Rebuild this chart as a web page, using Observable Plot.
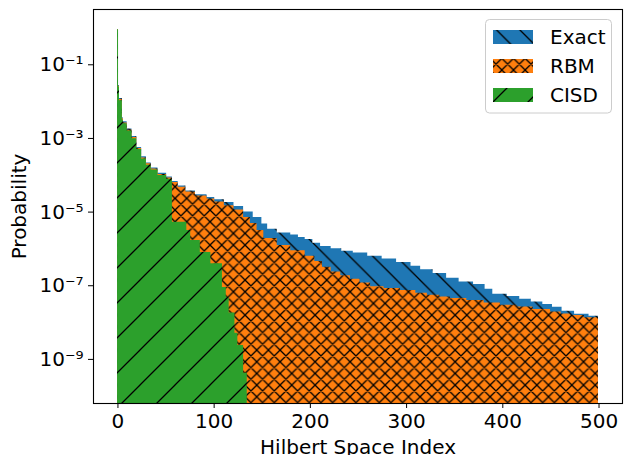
<!DOCTYPE html>
<html><head><meta charset="utf-8">
<script src="https://cdn.jsdelivr.net/npm/d3@7"></script>
<script src="https://cdn.jsdelivr.net/npm/@observablehq/plot@0.6"></script>
<style>
html,body{margin:0;padding:0;background:#fff;}
#chart{width:629px;height:455px;overflow:hidden;}
</style></head><body><div id="chart"></div>
<script>
// ---- data (runs of equal-valued bars: start index -> probability)
const seriesNames = ["Exact", "RBM", "CISD"];
const seriesColors = ["#1f77b4", "#ff7f0e", "#2ca02c"];
const xTicks = [0, 100, 200, 300, 400, 500];
const yTicks = [1e-1, 1e-3, 1e-5, 1e-7, 1e-9];

const exactStart = [0,1,2,5,6,10,15,20,25,30,35,42,51,57,63,71,81,93,101,111,121,131,141,150,156,166,180,188,195,203,211,222,233,245,260,275,290,305,315,328,342,355,370,382,390,405,418,430,442,452,462,475,490];
const exactProb = [0.79,2.4e-2,1.07e-2,3.2e-3,2.5e-3,1.6e-3,1.0e-3,5.0e-4,2.8e-4,1.9e-4,1.4e-4,1.0e-4,7.9e-5,6.0e-5,4.5e-5,3.3e-5,2.6e-5,2.2e-5,1.9e-5,1.6e-5,1.26e-5,8.9e-6,6.3e-6,4.2e-6,3.0e-6,2.4e-6,2.1e-6,1.8e-6,1.6e-6,1.26e-6,1.02e-6,8.9e-7,7.6e-7,6.8e-7,5.6e-7,4.7e-7,3.8e-7,3.0e-7,2.4e-7,1.9e-7,1.4e-7,1.12e-7,9.5e-8,7.1e-8,5.2e-8,4.5e-8,3.8e-8,3.2e-8,2.75e-8,2.3e-8,1.8e-8,1.48e-8,1.32e-8];
const exactEnd = 500;

const rbmStart = [0,1,2,5,6,10,15,20,25,30,35,42,51,57,63,71,81,93,101,111,121,131,138,145,152,166,180,195,205,213,222,232,242,252,263,277,294,310,322,335,346,363,381,398,415,432,450,461,471,485];
const rbmProb = [0.79,2.3e-2,1.0e-2,3.0e-3,2.3e-3,1.5e-3,9.3e-4,4.7e-4,2.6e-4,1.8e-4,1.3e-4,9.3e-5,7.4e-5,5.6e-5,4.2e-5,3.1e-5,2.4e-5,2.0e-5,1.66e-5,1.32e-5,1.0e-5,6.3e-6,4.3e-6,2.8e-6,1.7e-6,1.1e-6,7.9e-7,5.6e-7,4.0e-7,2.8e-7,2.1e-7,1.66e-7,1.32e-7,1.05e-7,8.3e-8,7.4e-8,6.6e-8,5.5e-8,4.9e-8,4.4e-8,4.0e-8,3.5e-8,3.0e-8,2.6e-8,2.35e-8,2.0e-8,1.7e-8,1.5e-8,1.38e-8,1.2e-8];
const rbmEnd = 500;

const cisdStart = [0,1,2,5,6,10,15,20,25,30,35,42,51,57,72,76,86,97,109,113,116,122,125,131];
const cisdProb = [0.79,2.2e-2,9.3e-3,2.8e-3,2.2e-3,1.4e-3,8.7e-4,4.4e-4,2.45e-4,1.66e-4,1.23e-4,8.7e-5,6.9e-5,4.7e-6,2.8e-6,1.5e-6,7.1e-7,3.5e-7,7.9e-8,4.3e-8,1.6e-8,4.5e-9,2.1e-9,3.7e-10];
const cisdEnd = 135;

// ---- scales
const xDomain = [-25.4, 524.4];
const yDomain = [5.6e-11, 2.8];

function runs(starts, probs, end) {
  const rows = starts.map((s, i) => ({x: s - 0.4, p: probs[i]}));
  rows.push({x: end - 0.6, p: probs[probs.length - 1]});
  return rows;
}
const exactRows = runs(exactStart, exactProb, exactEnd);
const rbmRows = runs(rbmStart, rbmProb, rbmEnd);
const cisdRows = runs(cisdStart, cisdProb, cisdEnd);

const supMap = {"-": "\u207B", "0": "\u2070", "1": "\u00B9", "2": "\u00B2", "3": "\u00B3", "4": "\u2074", "5": "\u2075", "6": "\u2076", "7": "\u2077", "8": "\u2078", "9": "\u2079"};
const logFmt = d => "10" + String(Math.round(Math.log10(d))).split("").map(c => supMap[c]).join("");

const ids = ["hExact", "hRBM", "hCISD"];
const bottom = () => yDomain[0];

const svg = Plot.plot({
  width: 629,
  height: 455,
  marginLeft: 93,
  marginRight: 7,
  marginTop: 9,
  marginBottom: 52,
  style: {fontFamily: "'DejaVu Sans', sans-serif", fontSize: "20px", color: "#000", background: "#fff"},
  x: {domain: xDomain},
  y: {type: "log", domain: yDomain},
  marks: [
    Plot.areaY(exactRows, {x: "x", y1: bottom, y2: "p", curve: "step-after", fill: "url(#hExact)"}),
    Plot.areaY(rbmRows, {x: "x", y1: bottom, y2: "p", curve: "step-after", fill: "url(#hRBM)"}),
    Plot.areaY(cisdRows, {x: "x", y1: bottom, y2: "p", curve: "step-after", fill: "url(#hCISD)"}),
    Plot.axisX({ticks: xTicks, tickFormat: d => String(d), tickSize: 5, tickPadding: 5,
      label: "Hilbert Space Index", labelAnchor: "center", labelArrow: "none", labelOffset: 50}),
    Plot.axisY({ticks: yTicks, tickFormat: logFmt, tickSize: 5, tickPadding: 5, dy: 2,
      label: "Probability", labelAnchor: "center", labelArrow: "none", labelOffset: 82}),
    Plot.frame({stroke: "#000", strokeWidth: 1.1})
  ]
});

// ---- hatch patterns (matplotlib-like)
const defs = d3.select(svg).insert("defs", ":first-child");
function hatch(id, size, color, d) {
  const p = defs.append("pattern").attr("id", id).attr("patternUnits", "userSpaceOnUse")
    .attr("width", size).attr("height", size);
  p.append("rect").attr("width", size).attr("height", size).attr("fill", color);
  p.append("path").attr("d", d).attr("stroke", "#000").attr("stroke-width", 1.3).attr("fill", "none");
}
{
  const s = 23.33;
  hatch("hExact", s, seriesColors[0], `M0,0L${s},${s}M-5,${s-5}L5,${s+5}M${s-5},-5L${s+5},5`);
  const o = 11.67;
  hatch("hRBM", o, seriesColors[1], `M0,0L${o},${o}M0,${o}L${o},0M-3,${o-3}L3,${o+3}M${o-3},-3L${o+3},3M-3,3L3,-3M${o-3},${o+3}L${o+3},${o-3}`);
  const g = 35;
  hatch("hCISD", g, seriesColors[2], `M0,${g}L${g},0M-5,5L5,-5M${g-5},${g+5}L${g+5},${g-5}`);
}

// ---- legend (upper right, matplotlib style)
const lg = d3.select(svg).append("g").attr("class", "legend").attr("text-anchor", "start");
lg.append("rect").attr("x", 485.5).attr("y", 19.5).attr("width", 126).attr("height", 93.5)
  .attr("rx", 4).attr("fill", "#fff").attr("fill-opacity", 0.8).attr("stroke", "#cccccc");
seriesNames.forEach((name, i) => {
  lg.append("rect").attr("x", 493).attr("y", 30 + i * 29).attr("width", 40).attr("height", 14)
    .attr("fill", `url(#${ids[i]})`);
  lg.append("text").attr("x", 550).attr("y", 43.5 + i * 29).attr("fill", "#000")
    .attr("text-anchor", "start")
    .style("font-size", "20px").style("font-family", "'DejaVu Sans', sans-serif").text(name);
});

document.getElementById("chart").appendChild(svg);
</script>
</body></html>
